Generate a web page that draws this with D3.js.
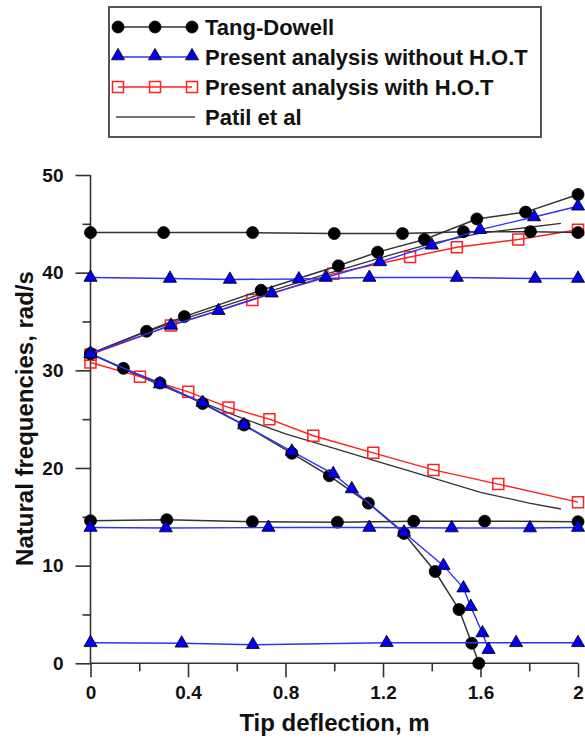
<!DOCTYPE html>
<html>
<head>
<meta charset="utf-8">
<script src="https://cdn.jsdelivr.net/npm/d3@7/dist/d3.min.js"></script>
<style>
  body { margin: 0; background: #fff; }
  svg text { font-family: "Liberation Sans", Arial, sans-serif; font-weight: bold; fill: #111; }
</style>
</head>
<body>
<svg id="chart" width="585" height="738"></svg>
<script>
// Tang-Dowell (black circles)
var tdFlatHigh = [[0,44.1],[0.3,44.1],[0.665,44.1],[1.0,44.0],[1.28,44.0],[1.53,44.2],[1.805,44.2],[2.0,44.1]];
var tdRising = [[0,31.7],[0.23,34.0],[0.385,35.5],[0.7,38.2],[1.017,40.7],[1.178,42.1],[1.37,43.4],[1.585,45.5],[1.785,46.2],[2.0,48.0]];
var tdFalling = [[0,31.7],[0.135,30.2],[0.285,28.7],[0.46,26.6],[0.63,24.4],[0.826,21.5],[0.98,19.2],[1.14,16.4],[1.286,13.3],[1.414,9.4],[1.512,5.5],[1.564,2.05],[1.593,0]];
var tdFlatLow = [[0,14.6],[0.313,14.7],[0.664,14.5],[1.013,14.45],[1.326,14.55],[1.617,14.55],[2.0,14.5]];

// Present analysis without H.O.T (blue triangles)
var woFlatHigh = [[0,39.5],[0.326,39.4],[0.572,39.3],[0.855,39.35],[1.144,39.5],[1.503,39.5],[1.824,39.4],[2.0,39.4]];
var woRising = [[0,31.7],[0.33,34.6],[0.525,36.1],[0.743,37.9],[0.965,39.5],[1.188,41.1],[1.4,42.8],[1.598,44.4],[1.82,45.7],[2.0,46.8]];
var woFalling = [[0,31.7],[0.285,28.6],[0.46,26.7],[0.63,24.4],[0.826,21.7],[0.996,19.4],[1.072,17.85],[1.286,13.4],[1.448,10.0],[1.53,7.7],[1.56,5.8],[1.608,3.1],[1.633,1.4]];
var woFlatLow = [[0,13.9],[0.309,13.85],[0.73,13.9],[1.144,13.9],[1.482,13.85],[1.803,13.85],[2.0,13.9]];
var woBottom = [[0,2.1],[0.374,2.05],[0.666,1.9],[1.215,2.1],[1.746,2.1],[2.0,2.1]];

// Present analysis with H.O.T (red squares)
var wRising = [[0,31.6],[0.33,34.6],[0.664,37.2],[0.996,39.9],[1.311,41.6],[1.503,42.6],[1.755,43.4],[2.0,44.4]];
var wFalling = [[0,30.8],[0.203,29.35],[0.401,27.8],[0.566,26.2],[0.734,25.0],[0.914,23.3],[1.16,21.55],[1.407,19.8],[1.673,18.35],[2.0,16.5]];

// Patil et al (plain line)
var patilRising = [[0,31.7],[0.2,33.7],[0.4,35.4],[0.6,37.0],[0.8,38.6],[1.0,40.1],[1.2,41.6],[1.4,43.0],[1.6,44.05],[1.8,44.65],[1.93,45.05]];
var patilFalling = [[0,31.7],[0.2,29.4],[0.4,27.3],[0.6,25.3],[0.8,23.5],[1.0,22.0],[1.2,20.5],[1.4,19.0],[1.6,17.5],[1.8,16.4],[1.93,15.8]];

var xMajor = [0, 0.4, 0.8, 1.2, 1.6, 2];
var xMinor = [0.2, 0.6, 1.0, 1.4, 1.8];
var yMajor = [0, 10, 20, 30, 40, 50];
var yMinor = [5, 15, 25, 35, 45];

var legendNames = ["Tang-Dowell", "Present analysis without H.O.T", "Present analysis with H.O.T", "Patil et al"];

var svg = d3.select("#chart");
var x = d3.scaleLinear().domain([0, 2]).range([90.5, 578]);
var y = d3.scaleLinear().domain([0, 50]).range([663.3, 175]);

var axisColor = "#333";

// axes
var gx = svg.append("g").attr("transform", "translate(0," + y(0) + ")");
gx.call(d3.axisBottom(x).tickValues(xMajor).tickSize(14).tickPadding(8).tickFormat(d3.format("")));
var gxm = svg.append("g").attr("transform", "translate(0," + y(0) + ")");
gxm.call(d3.axisBottom(x).tickValues(xMinor).tickSize(8).tickFormat(""));
gxm.select(".domain").remove();

var gy = svg.append("g").attr("transform", "translate(" + x(0) + ",0)");
gy.call(d3.axisLeft(y).tickValues(yMajor).tickSize(15).tickPadding(12));
var gym = svg.append("g").attr("transform", "translate(" + x(0) + ",0)");
gym.call(d3.axisLeft(y).tickValues(yMinor).tickSize(8).tickFormat(""));
gym.select(".domain").remove();

svg.selectAll(".domain").attr("stroke", axisColor).attr("stroke-width", 1.6);
svg.selectAll(".tick line").attr("stroke", axisColor).attr("stroke-width", 1.6);
svg.selectAll(".tick text").attr("font-size", 19).attr("font-family", "Liberation Sans, Arial, sans-serif").attr("font-weight", "bold").attr("fill", "#111");
gx.selectAll(".domain").attr("d", "M" + x(0) + ",0H" + x(2));
gy.selectAll(".domain").attr("d", "M0," + y(0) + "V" + y(50));

svg.append("text")
  .attr("x", 334.5).attr("y", 731)
  .attr("text-anchor", "middle")
  .attr("font-size", 24)
  .text("Tip deflection, m");

svg.append("text")
  .attr("transform", "translate(33,418.5) rotate(-90)")
  .attr("text-anchor", "middle")
  .attr("font-size", 24)
  .text("Natural frequencies, rad/s");

var line = d3.line().x(function(d){ return x(d[0]); }).y(function(d){ return y(d[1]); });

function drawLine(data, color, width){
  svg.append("path").datum(data)
    .attr("d", line)
    .attr("fill", "none")
    .attr("stroke", color)
    .attr("stroke-width", width);
}

var sym = {
  circle: d3.symbol().type(d3.symbolCircle).size(Math.PI * 36),
  triangle: d3.symbol().type(d3.symbolTriangle).size(75),
  square: d3.symbol().type(d3.symbolSquare).size(121)
};

function drawMarks(data, kind){
  svg.append("g").selectAll("path")
    .data(data)
    .enter()
    .append("path")
    .attr("transform", function(d){ return "translate(" + x(d[0]) + "," + y(d[1]) + ")"; })
    .attr("d", sym[kind])
    .attr("fill", kind == "square" ? "none" : (kind == "circle" ? "#000" : "#0000f0"))
    .attr("stroke", kind == "square" ? "#ff2020" : "#000")
    .attr("stroke-width", kind == "square" ? 1.5 : 0.8);
}

// Patil first, then red, black, blue on top
drawLine(patilRising, "#333", 1.3);
drawLine(patilFalling, "#333", 1.3);

[wRising, wFalling].forEach(function(s){ drawLine(s, "#ff2020", 1.4); });
[wRising, wFalling].forEach(function(s){ drawMarks(s, "square"); });

[tdFlatHigh, tdRising, tdFalling, tdFlatLow].forEach(function(s){ drawLine(s, "#333", 1.5); });
[tdFlatHigh, tdRising, tdFalling, tdFlatLow].forEach(function(s){ drawMarks(s, "circle"); });

[woFlatHigh, woRising, woFalling, woFlatLow, woBottom].forEach(function(s){ drawLine(s, "#3030ff", 1.4); });
[woFlatHigh, woRising, woFalling, woFlatLow, woBottom].forEach(function(s){ drawMarks(s, "triangle"); });

// legend
var legend = svg.append("g");
legend.append("rect")
  .attr("x", 109).attr("y", 7).attr("width", 432).attr("height", 130)
  .attr("fill", "#fff").attr("stroke", "#555").attr("stroke-width", 2);

var legendKinds = ["circle", "triangle", "square", null];
var legendColors = ["#333", "#3030ff", "#ff2020", "#444"];
legendNames.forEach(function(name, i){
  var ry = 27 + i * 30;
  var lx1 = i == 3 ? 116 : 118, lx2 = i == 3 ? 195 : 192;
  legend.append("line")
    .attr("x1", lx1).attr("x2", lx2).attr("y1", ry).attr("y2", ry)
    .attr("stroke", legendColors[i]).attr("stroke-width", 1.5);
  if (legendKinds[i]){
    [118, 155, 192].forEach(function(mx){
      legend.append("path")
        .attr("transform", "translate(" + mx + "," + (legendKinds[i] == "triangle" ? ry - 1 : ry) + ")")
        .attr("d", sym[legendKinds[i]])
        .attr("fill", legendKinds[i] == "square" ? "none" : (legendKinds[i] == "circle" ? "#000" : "#0000f0"))
        .attr("stroke", legendKinds[i] == "square" ? "#ff2020" : "#000")
        .attr("stroke-width", legendKinds[i] == "square" ? 1.5 : 0.8);
    });
  }
  legend.append("text")
    .attr("x", 205).attr("y", ry + 8)
    .attr("font-size", 22)
    .text(name);
});
</script>
</body>
</html>
